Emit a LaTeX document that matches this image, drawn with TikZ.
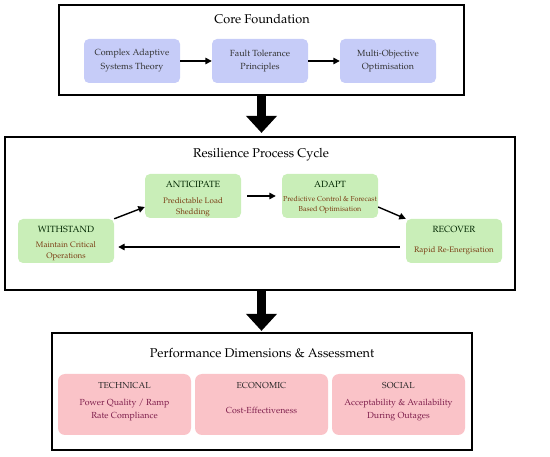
\documentclass[tikz,border=0pt]{standalone}
\usepackage[T1]{fontenc}
\usepackage{mathpazo}
\usepackage{tikz}
\usetikzlibrary{arrows.meta,calc,positioning}
\definecolor{coreblue}{HTML}{C6CCF8}
\definecolor{cyclegreen}{HTML}{C9EEB8}
\definecolor{perfpink}{HTML}{FAC3C8}
\definecolor{subbrown}{HTML}{7A3A12}
\definecolor{subplum}{HTML}{7E1E4C}
\newcommand{\fs}[1]{\fontsize{#1}{#1}\selectfont}

\begin{document}
\begin{tikzpicture}[x=1pt,y=-1pt,
    frame/.style={draw,line width=2.2pt,inner sep=0pt},
    bluebox/.style={fill=coreblue,rounded corners=5pt,minimum width=96pt,minimum height=44pt,inner sep=0pt},
    greenbox/.style={fill=cyclegreen,rounded corners=5pt,minimum width=96pt,minimum height=44pt,inner sep=0pt},
    pinkbox/.style={fill=perfpink,rounded corners=7pt,minimum width=133pt,minimum height=61pt,inner sep=0pt},
    heading/.style={font=\fs{12.7},inner sep=0pt},
    bluetext/.style={font=\fs{8.9},align=center,text=black!80,inner sep=0pt},
    gtitle/.style={font=\fs{9},text=black!85!green,inner sep=0pt},
    gsub/.style={font=\fs{8},align=center,text=subbrown,inner sep=0pt},
    ptitle/.style={font=\fs{8.7},text=black!85,inner sep=0pt},
    psub/.style={font=\fs{8.8},align=center,text=subplum,inner sep=0pt},
    flow/.style={line width=1.4pt,-{Triangle[length=6.5pt,width=6.5pt]}},
    bigarrow/.style={line width=9pt,-{Triangle[length=17pt,width=30pt]}}]
  \useasboundingbox (0,0) rectangle (550,457);
  % --- core foundation ---
  \node[frame,minimum width=405pt,minimum height=90pt] (core) at (261.5,50) {};
  \node[heading] (coreT) at (262,19) {Core Foundation};
  \node[bluebox] (cas) at (132,61) {};
  \node[bluebox] (ftp) at (260,61) {};
  \node[bluebox] (moo) at (388,61) {};
  \node[bluetext] at (cas) {Complex Adaptive\\[4pt]Systems Theory};
  \node[bluetext] at (ftp) {Fault Tolerance\\[4pt]Principles};
  \node[bluetext] at (moo) {Multi-Objective\\[4pt]Optimisation};
  \draw[flow] (cas) -- (ftp);
  \draw[flow] (ftp) -- (moo);
  % --- resilience process cycle ---
  \node[frame,minimum width=510pt,minimum height=153pt] (cycle) at (260,213.5) {};
  \node[heading] (cycleT) at (261,155) {Resilience Process Cycle};
  \node[greenbox] (ant) at (193,196) {};
  \node[greenbox] (ada) at (330,196) {};
  \node[greenbox] (wit) at (66,241) {};
  \node[greenbox] (rec) at (454,241) {};
  \node[gtitle] (antT) at ($(ant)+(0,-12)$) {ANTICIPATE};
  \node[gsub] (antS) at ($(ant)+(0,11)$) {Predictable Load\\[3.5pt]Shedding};
  \node[gtitle] (adaT) at ($(ada)+(0,-12)$) {ADAPT};
  \node[gsub,font=\fs{7.2}] (adaS) at ($(ada)+(0,9)$) {Predictive Control \& Forecast\\[2.5pt]Based Optimisation};
  \node[gtitle] (witT) at ($(wit)+(0,-12)$) {WITHSTAND};
  \node[gsub] (witS) at ($(wit)+(0,10)$) {Maintain Critical\\[3.5pt]Operations};
  \node[gtitle] (recT) at ($(rec)+(0,-12)$) {RECOVER};
  \node[gsub] (recS) at ($(rec)+(0,10)$) {Rapid Re-Energisation};
  \draw[flow] (wit.north east) -- ([yshift=-11pt]ant.west);
  \draw[flow,shorten <=6pt,shorten >=6pt] (ant) -- (ada);
  \draw[flow] ([yshift=-11pt]ada.east) -- (rec.north west);
  \draw[flow,shorten <=6pt,shorten >=4pt] ([yshift=-6pt]rec.west) -- ([yshift=-6pt]wit.east);
  % --- performance ---
  \node[frame,minimum width=420pt,minimum height=117pt] (perf) at (262,391.5) {};
  \node[heading] (perfT) at (262,353) {Performance Dimensions \& Assessment};
  \node[pinkbox] (tec) at (124.5,404.5) {};
  \node[pinkbox] (eco) at (261.5,404.5) {};
  \node[pinkbox] (soc) at (398.5,404.5) {};
  \node[ptitle] (tecT) at ($(tec)+(0,-19)$) {TECHNICAL};
  \node[psub] (tecS) at ($(tec)+(0,5.5)$) {Power Quality / Ramp\\[4pt]Rate Compliance};
  \node[ptitle] (ecoT) at ($(eco)+(0,-19)$) {ECONOMIC};
  \node[psub] (ecoS) at ($(eco)+(0,6)$) {Cost-Effectiveness};
  \node[ptitle] (socT) at ($(soc)+(0,-19)$) {SOCIAL};
  \node[psub] (socS) at ($(soc)+(0,5.5)$) {Acceptability \& Availability\\[4pt]During Outages};
  % --- links between layers ---
  \draw[bigarrow,shorten >=3pt] (core.south) -- (core.south |- cycle.north);
  \draw[bigarrow,shorten >=1pt] (cycle.south -| core.south) -- (core.south |- perf.north);
\end{tikzpicture}
\end{document}
